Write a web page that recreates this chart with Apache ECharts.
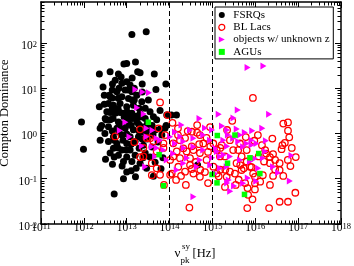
<!DOCTYPE html>
<html><head><meta charset="utf-8">
<script src="https://cdn.jsdelivr.net/npm/echarts/dist/echarts.min.js"></script>
<style>html,body{margin:0;padding:0;background:#fff}#c{width:354px;height:266px}</style>
</head><body><div id="c"></div>
<script>
const FONT = 'Liberation Serif';
const seriesNames = ['FSRQs', 'BL Lacs', 'objects w/ unknown z', 'AGUs'];
const xMajorTicks = [1e11, 1e12, 1e13, 1e14, 1e15, 1e16, 1e17, 1e18];
const yMajorTicks = [0.01, 0.1, 1, 10, 100];
const yMax = 800;
const dashedLines = [1e14, 1e15];

const fsrq = [
[1.32e13,154],[2.85e13,176],[8.6e12,34],[1.0e13,35],[1.6e13,38],[2.3e12,20.5],[6.4e12,20.5],[1.8e13,23],[4.4e13,20.5],[2.05e13,22],
[5.4e12,15],[7.7e12,12.8],[1.0e13,13.8],[4.65e12,12.3],[2.8e12,10.6],[1.2e13,11.7],[5.9e12,8.3],[9.2e12,9.1],[1.32e13,8.3],[8.2e13,12.3],
[4.8e13,9.4],[1.72e13,7.0],[3.9e12,7.0],[4.1e12,6.5],[7.7e12,6.5],[1.1e13,5.95],[2.25e13,5.0],[2.3e12,3.9],[3.75e12,4.6],[4.9e12,4.2],
[7.0e12,4.6],[1.0e13,3.9],[1.43e13,4.2],[3.44e12,3.0],[5.4e12,2.8],[8.4e12,2.8],[1.32e13,2.8],[2.05e13,2.8],[3.5e13,3.0],[8.6e13,2.55],
[1.1e14,2.55],[1.45e14,2.55],[4.2e13,2.34],[2.7e13,3.6],[6.3e12,3.5],[8.8e11,1.8],[4.1e12,2.0],[6.4e12,1.8],[1.1e13,2.0],[1.72e13,1.8],
[2.7e13,2.15],[5.0e13,2.0],[3.75e12,1.4],[5.9e12,1.3],[9.2e12,1.3],[1.43e13,1.2],[2.25e13,1.4],[3.2e13,1.2],[3.1e12,1.0],[2.6e12,1.5],
[7.8e12,1.6],[1.27e13,1.5],[1.95e13,1.13],[6.6e12,1.07],[1.0e13,0.97],[3.9e13,1.5],[6.0e13,1.25],[4.9e12,0.85],[7.7e12,0.92],[1.2e13,0.85],
[1.88e13,0.85],[3.75e12,0.66],[5.9e12,0.6],[1.0e13,0.6],[1.57e13,0.66],[2.45e13,0.55],[4.9e12,0.47],[7.7e12,0.43],[1.2e13,0.43],[1.95e13,0.47],
[9.8e11,0.45],[6.4e12,0.33],[1.0e13,0.3],[1.57e13,0.33],[3.2e12,0.27],[2.4e12,0.71],[3.0e13,0.75],[3.9e13,0.5],[5.4e13,0.65],[4.1e12,0.37],
[2.7e13,0.37],[4.65e12,0.21],[8.4e12,0.24],[1.32e13,0.24],[2.05e13,0.22],[1.0e13,0.14],[8.4e12,0.1],[1.6e13,0.11],[2.9e13,0.17],[4.2e13,0.113],
[6.3e13,0.166],[5.1e12,0.046],[7.0e13,0.29],[4.6e13,0.23],[8.3e13,1.5],[7.8e13,1.3],[4.5e14,0.2],[2.3e13,8.2],[3.0e12,7.0],[4.6e12,9.1],
[6.6e12,10],[1.5e13,10],[3.15e12,2.15],[4.8e12,2.15],[8.7e12,2.3],[1.35e13,2.15],[2.15e13,2.3],[4.6e12,1.13],[2.8e13,1.0],
[1.27e13,0.15],[2.4e13,0.29],[3.5e13,0.3],[1.08e13,2.3],[7.0e12,2.9],[3.0e12,4.4],[4.6e12,6.1],
[1.35e13,5.5],[1.95e13,3.6],[3.0e13,1.6],[4.1e13,0.93],[2.4e13,1.07],[6.0e13,3.2],[6.6e13,0.92],
[4.6e12,3.6],[1.02e13,3.0],[1.66e13,2.4],[7.0e12,1.38],[1.14e13,1.6],[5.1e12,0.71],[8.2e12,0.71],[1.27e13,0.58],[6.3e12,0.48],[9.7e12,0.43],
[5.1e12,0.3],[7.8e12,0.19],[1.66e13,0.17],[6.3e12,6.0],[1.5e13,5.5],[3.3e12,2.0],[2.4e12,1.3],[2.3e13,0.75],[1.9e13,1.6],[4.1e12,2.9],
[1.08e13,9.1],[7.4e12,17.6],[1.34e13,16.7],[4.1e12,23],[2.3e13,12.3],[3.2e13,5.5],[4.6e13,1.19]
];

const bllac = [
[8.8e15,6.1],[2.9e15,1.9],[4.5e16,1.65],[5.8e16,1.75],[5.8e16,1.15],[6.2e16,0.82],[4.9e16,0.62],[4.3e16,0.55],[4.1e16,0.45],[2.5e16,0.77],
[9.5e15,0.69],[6.3e15,0.43],[1.7e16,0.43],[2.6e16,0.35],[2.2e16,0.30],[2.9e16,0.26],[3.7e16,0.22],[2.2e16,0.22],[1.8e16,0.36],[1.2e16,0.31],
[8.2e15,0.18],[5.4e15,0.17],[6.3e15,0.24],[3.7e16,0.155],[2.6e16,0.115],[4.5e16,0.115],[6.6e16,0.19],[1.5e16,0.12],[9.8e15,0.11],[1.3e16,0.086],
[9.8e15,0.079],[9.8e15,0.058],[6.8e15,0.044],[8.6e15,0.035],[8.6e16,0.049],[3.7e16,0.031],[5.8e16,0.031],[6.5e15,0.0225],[2.1e16,0.0225],[2.9e14,0.023],
[6.0e13,4.85],[9.0e13,2.55],[1.17e14,1.72],[2.05e13,1.23],[5.5e13,1.3],[5.4e12,0.86],[1.5e13,0.64],[2.05e13,0.30],[2.45e13,0.48],[5.0e13,0.17],
[3.85e13,0.12],[6.0e13,0.122],[1.03e14,0.122],[5.0e13,0.40],[7.2e13,0.48],[2.9e13,0.79],[4.2e13,0.67],[2.65e14,1.13],[7.3e14,0.80],[4.9e14,0.58],
[1.05e15,0.60],[1.75e14,0.71],[2.1e14,0.47],[3.6e14,0.43],[1.22e14,0.31],[1.12e14,0.13],[5.1e14,0.11],[2.45e13,0.31],[4.4e15,0.60],[3.05e15,0.43],
[4.8e15,0.31],[3.65e15,0.22],[7.5e15,0.185],[8.9e15,0.13],[7.3e14,0.26],[1.05e15,0.185],[2.15e15,0.11],[1.5e15,0.31],[3.3e14,1.09],[5.1e14,0.92],
[2.2e15,1.19],[6.1e14,0.60],[1.22e14,0.605],[7.2e13,0.605],[3.5e13,0.78],[1.47e14,0.40],[2.5e14,0.40],[5.1e14,0.37],[1.26e15,0.43],[1.64e15,0.55],
[4.0e15,0.43],[1.03e14,0.26],[1.75e14,0.285],[3.0e14,0.285],[1.96e15,0.31],[1.6e14,0.184],[2.3e14,0.143],[3.6e14,0.13],[1.42e14,0.094],[2.56e15,0.143],
[3.35e15,0.13],[4.8e15,0.156],[1.26e15,0.13],[3.85e13,0.22],[1.6e16,0.24],[2.9e16,0.16],[2.0e15,0.158],[4.1e15,0.095],[5.8e15,0.080],[6.6e15,0.062],
[4.45e15,0.20],[3.3e14,0.164],[5.2e14,0.158],[1.4e15,0.113],[1.52e15,0.158],[8.9e14,0.52],[1.52e15,0.48],[3.3e14,0.52],[4.4e14,1.04],
[7.9e13,0.92],[1.57e14,1.3],[2.3e14,0.79],[7.9e14,0.39],[4.1e14,0.234],[2.56e15,0.71],[1.15e16,0.92],[1.43e16,0.55],[6.0e15,0.83],[7.9e14,0.08],
[2.4e14,0.073],[7.4e13,0.073],[1.96e15,0.066],[3.5e15,0.073],[2.2e16,0.073],[7.1e16,0.48],[8.8e16,0.30],[5.75e16,0.26],
[1.57e14,0.92],[3.0e14,0.2],[6.7e14,0.14],[1.85e14,0.115],[8.8e14,1.38],[4.4e14,1.53]
];

const unknownZ = [
[6.6e15,28.5],[1.55e16,31],[5.0e14,2.13],[1.4e15,2.64],[3.9e15,3.3],[3.1e15,2.2],[2.1e16,2.64],[1.46e16,1.3],[8.5e15,1.15],[5.7e15,1.05],
[3.7e15,1.25],[2.2e15,1.19],[1.9e14,1.53],[1.6e13,9.4],[2.35e13,8.2],[3.3e13,7.9],[1.75e13,3.7],[2.5e13,2.7],[9.3e12,1.77],[6.9e12,1.16],
[2.9e13,1.3],[4.0e13,1.17],[1.16e13,0.85],[2.9e13,0.85],[5.0e13,0.78],[6.0e13,0.71],[2.25e13,0.53],[3.85e13,0.51],[4.6e13,0.31],[7.2e13,0.43],
[1.22e14,0.36],[2.7e13,0.184],[1.03e14,0.85],[1.34e14,0.6],[2.1e14,0.66],[3.6e14,0.51],[6.1e14,0.43],[1.15e15,0.47],[1.8e15,0.71],[2.3e15,0.92],
[3.05e15,0.78],[4.4e15,0.92],[8.2e15,0.71],[1.07e16,0.6],[6.1e14,0.92],[3.6e14,0.78],[8.8e14,0.71],[1.5e15,0.31],[2.56e15,0.31],[4.4e15,0.26],
[2.15e15,0.184],[1.15e15,0.13],[9.8e15,0.28],[8.6e13,0.26],[2.1e14,0.22],[1.47e14,0.156],[4.3e14,0.184],[4.0e15,0.66],[6.3e15,0.6],[3.6e14,0.04],
[1.5e15,0.17],[2.4e15,0.094],[1.77e16,0.69],[8.2e15,0.555],[5.2e15,0.51],[7.0e16,0.325],[6.4e16,0.089],[3.4e16,0.136],[2.6e16,0.184],[5.2e15,0.079],
[7.5e15,0.24],[1.17e16,0.17],[3.2e15,0.069],[1.7e16,0.40],[1.5e16,0.286],[2.2e15,0.52],[1.83e15,0.34],[1.28e15,0.40],[2.14e14,0.48],[1.78e14,0.86],
[2.55e14,0.286],[6.7e15,0.104],[1.05e16,0.088],[2.2e15,0.08],[2.6e15,0.053],[8.9e14,0.2],[5.0e13,0.48],[6.7e14,1.32],[9.8e14,1.19],[3.0e14,1.19],
[1.67e15,1.46],[1.34e14,1.07],[5.1e14,0.26],[9.8e14,0.29]
];

const agu = [
[3.2e13,1.77],[5.7e13,0.34],[7.2e13,0.07],[1.3e15,0.9],[3.35e15,0.92],[7.5e15,0.29],
[1.2e16,0.36],[2.25e15,0.22],[1.28e16,0.13],[9.8e14,0.124],[1.28e15,0.081],[5.6e15,0.045]
];

// minor tick positions (2..9 per decade) derived from the major ticks
const xMinorTicks = [];
xMajorTicks.slice(0, -1).forEach(d => { for (let m = 2; m <= 9; m++) xMinorTicks.push(m * d); });
const yMinorTicks = [];
yMajorTicks.forEach(d => { for (let m = 2; m <= 9; m++) if (m * d <= yMax) yMinorTicks.push(m * d); });

function supLabel(v) {
  const l = Math.log10(v), e = Math.round(l);
  if (Math.abs(l - e) > 1e-6) return '';
  return '{b|10}{s|' + e + '}';
}
const richLab = {
  b: { fontFamily: FONT, fontSize: 11.5, color: '#000', lineHeight: 12, verticalAlign: 'bottom' },
  s: { fontFamily: FONT, fontSize: 8.5, color: '#000', lineHeight: 9, padding: [0, 0, 5, 0], verticalAlign: 'top' }
};
const tickStyle = { show: true, inside: true, length: 6, lineStyle: { color: '#000', width: 1 } };
const lineStyle = { show: true, lineStyle: { color: '#000', width: 1.5 } };

function minorTickSeries(values, dir) {
  return {
    type: 'custom', silent: true, z: 10, clip: false,
    data: values.map(v => dir === 'x' ? [v, 1] : [1e14, v]),
    renderItem: function (params, api) {
      const cs = params.coordSys;
      const p = api.coord([api.value(0), api.value(1)]);
      const L = 3.5;
      let a, b;
      if (dir === 'x') {
        const x = Math.round(p[0]) + 0.5;
        a = { x1: x, y1: cs.y + cs.height, x2: x, y2: cs.y + cs.height - L };
        b = { x1: x, y1: cs.y, x2: x, y2: cs.y + L };
      } else {
        const y = Math.round(p[1]) + 0.5;
        a = { x1: cs.x, y1: y, x2: cs.x + L, y2: y };
        b = { x1: cs.x + cs.width, y1: y, x2: cs.x + cs.width - L, y2: y };
      }
      return { type: 'group', children: [
        { type: 'line', shape: a, style: { stroke: '#000', lineWidth: 1 } },
        { type: 'line', shape: b, style: { stroke: '#000', lineWidth: 1 } }
      ] };
    }
  };
}

const chart = echarts.init(document.getElementById('c'), null, { renderer: 'canvas' });
const xBase = { type: 'log', logBase: 10, min: xMajorTicks[0], max: xMajorTicks[xMajorTicks.length - 1], splitNumber: 7,
  splitLine: { show: false }, axisLine: lineStyle, axisTick: tickStyle };
const yBase = { type: 'log', logBase: 10, min: yMajorTicks[0], max: yMax,
  splitLine: { show: false }, axisLine: lineStyle, axisTick: tickStyle };

chart.setOption({
  animation: false,
  backgroundColor: '#fff',
  grid: { left: 41, right: 13, top: 2, bottom: 42, containLabel: false, outerBoundsMode: 'none' },
  xAxis: [
    Object.assign({}, xBase, { position: 'bottom',
      axisLabel: { show: true, margin: -2, formatter: supLabel, rich: richLab, color: '#000' } }),
    Object.assign({}, xBase, { position: 'top', axisLabel: { show: false } })
  ],
  yAxis: [
    Object.assign({}, yBase, { position: 'left',
      name: 'Compton Dominance', nameLocation: 'middle', nameGap: 30, nameMoveOverlap: false,
      nameTextStyle: { fontFamily: FONT, fontSize: 12.5, color: '#000' },
      axisLabel: { show: true, margin: 4, formatter: supLabel, rich: richLab, color: '#000', padding: [6, 0, 0, 0], showMaxLabel: false } }),
    Object.assign({}, yBase, { position: 'right', axisLabel: { show: false } })
  ],
  legend: {
    orient: 'vertical', left: 215, top: 7, itemWidth: 13, itemHeight: 6, itemGap: 0.3, symbolKeepAspect: true,
    padding: [2, 2, 1, 3.2], borderColor: '#000', borderWidth: 1, backgroundColor: '#fff',
    textStyle: { fontFamily: FONT, fontSize: 11, color: '#000', lineHeight: 12, width: 98 },
    data: [seriesNames[0],
      { name: seriesNames[1], itemStyle: { color: 'transparent', borderColor: '#ff0000', borderWidth: 1.2 } },
      seriesNames[2],
      { name: seriesNames[3], icon: 'path://M0,0H10V10H0Z' }]
  },
  graphic: [
    { type: 'text', x: 174.5, y: 253.6, style: { text: 'ν', font: '13px "Liberation Serif"', fill: '#000', textAlign: 'left', textVerticalAlign: 'middle', verticalAlign: 'middle' } },
    { type: 'text', x: 180.5, y: 260.4, style: { text: 'pk', font: '9px "Liberation Serif"', fill: '#000', textAlign: 'left', textVerticalAlign: 'middle', verticalAlign: 'middle' } },
    { type: 'text', x: 182, y: 247, style: { text: 'sy', font: '9px "Liberation Serif"', fill: '#000', textAlign: 'left', textVerticalAlign: 'middle', verticalAlign: 'middle' } },
    { type: 'text', x: 192.5, y: 253.7, style: { text: '[Hz]', font: '12.5px "Liberation Serif"', fill: '#000', textAlign: 'left', textVerticalAlign: 'middle', verticalAlign: 'middle' } }
  ],
  series: [
    { name: seriesNames[0], type: 'scatter', data: fsrq, symbol: 'circle', symbolSize: 7,
      itemStyle: { color: '#000', opacity: 1 },
      markLine: { silent: true, symbol: 'none', label: { show: false },
        lineStyle: { color: '#000', type: [5, 3], width: 1 },
        data: dashedLines.map(v => ({ xAxis: v })) } },
    { name: seriesNames[1], type: 'scatter', data: bllac, symbol: 'circle', symbolSize: 6.5,
      itemStyle: { color: 'transparent', borderColor: '#ff0000', borderWidth: 1.3, opacity: 1 } },
    { name: seriesNames[2], type: 'scatter', data: unknownZ, symbol: 'path://M0,0L10,5L0,10Z', symbolSize: [6, 7],
      itemStyle: { color: '#ff00ff', opacity: 1 } },
    { name: seriesNames[3], type: 'scatter', data: agu, symbol: 'rect', symbolSize: 5.5,
      itemStyle: { color: '#00ff00', opacity: 1 } },
    minorTickSeries(xMinorTicks, 'x'),
    minorTickSeries(yMinorTicks, 'y')
  ]
});
</script></body></html>
